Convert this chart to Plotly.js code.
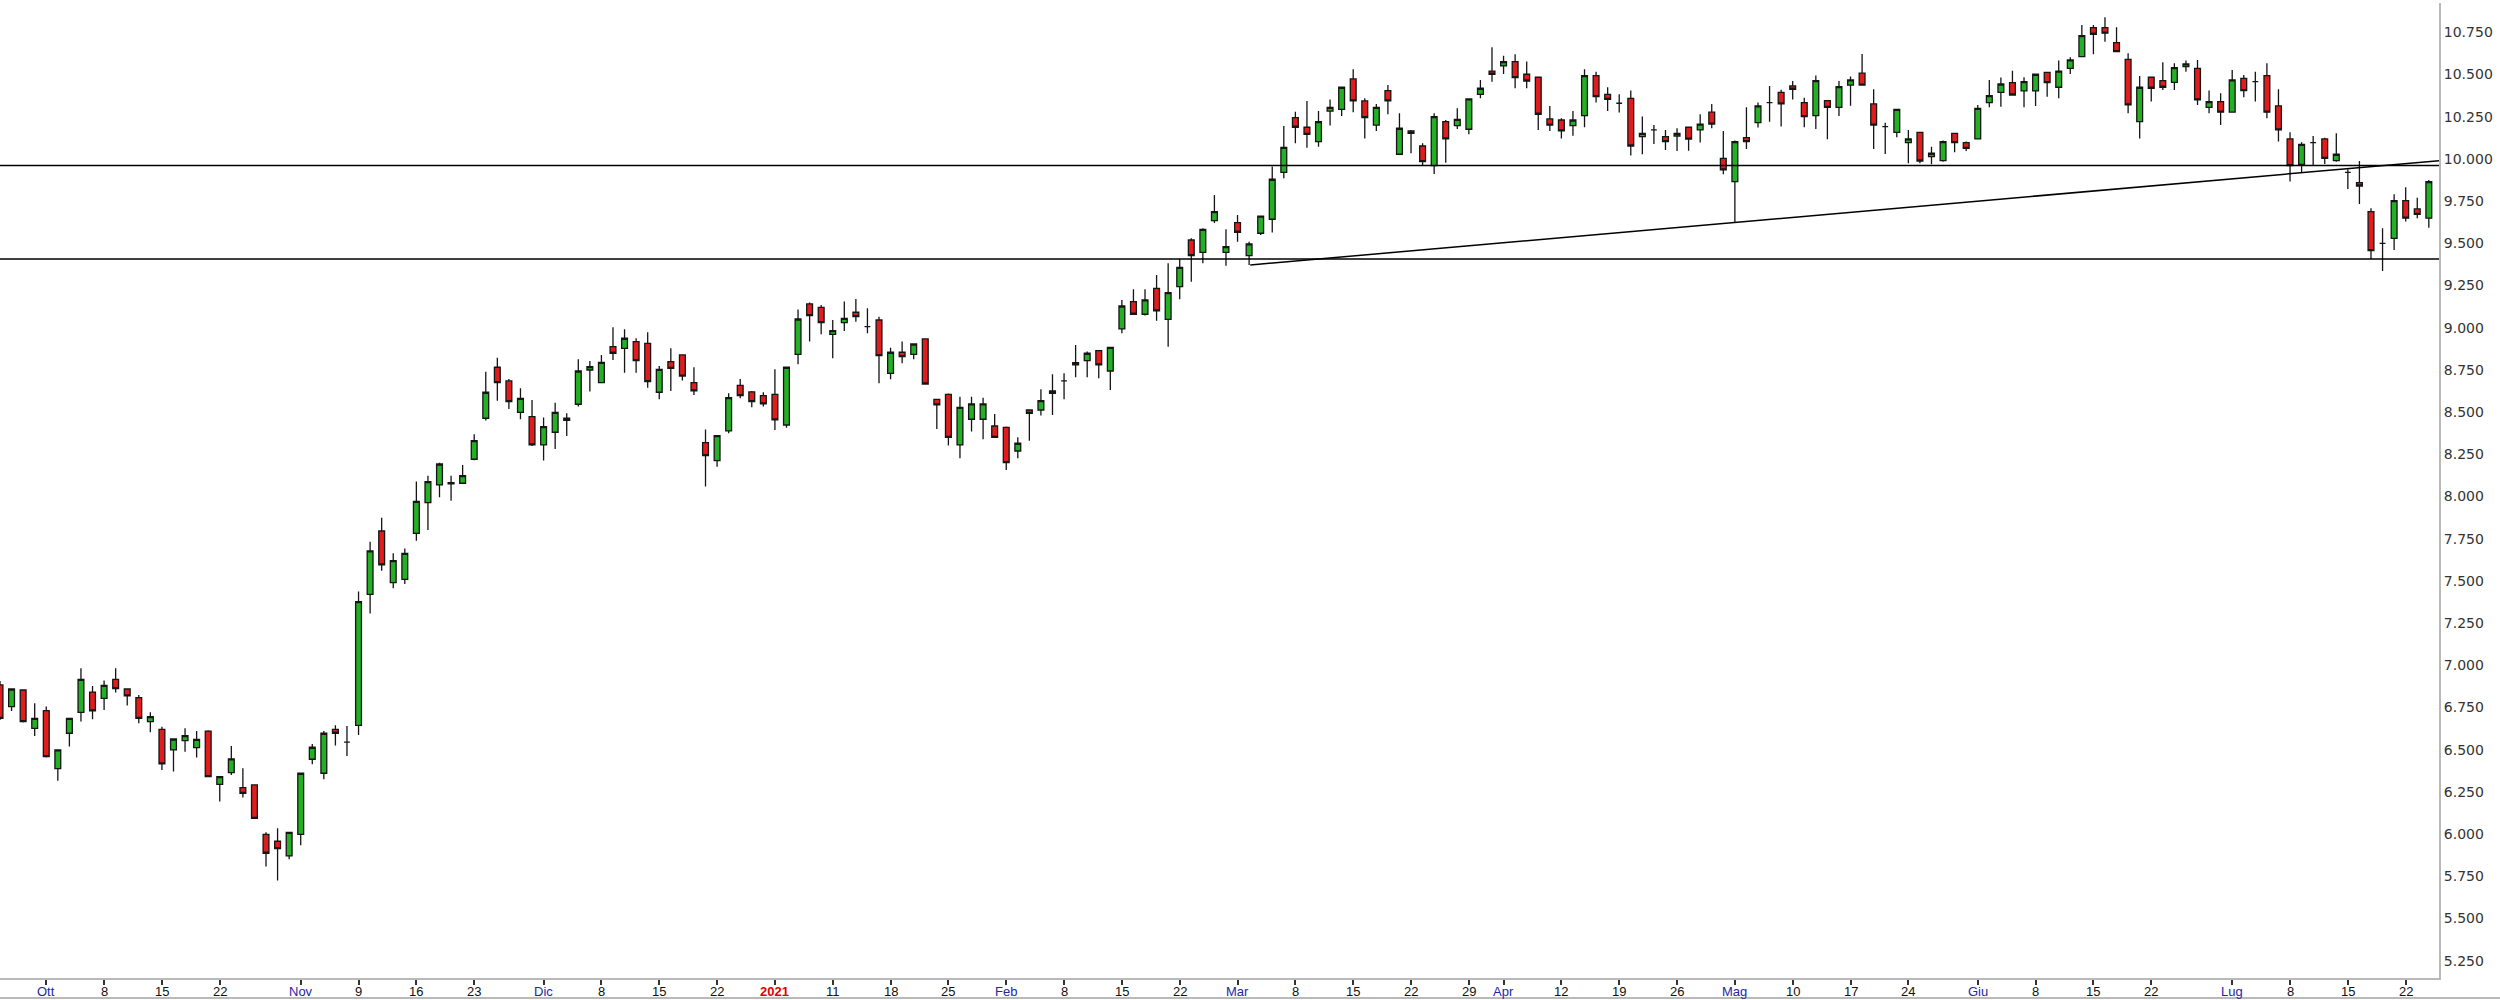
<!DOCTYPE html>
<html>
<head>
<meta charset="utf-8">
<script src="https://cdn.plot.ly/plotly-3.0.1.min.js"></script>
<style>
html,body{margin:0;padding:0;background:#fff;}
#chart{width:2500px;height:1000px;}
</style>
</head>
<body>
<div id="chart"></div>
<script>
// Trading days (x categories)
const dates = [
"2020-09-25","2020-09-28","2020-09-29","2020-09-30",
"2020-10-01","2020-10-02","2020-10-05","2020-10-06","2020-10-07","2020-10-08","2020-10-09","2020-10-12","2020-10-13","2020-10-14","2020-10-15","2020-10-16","2020-10-19","2020-10-20","2020-10-21","2020-10-22","2020-10-23","2020-10-26","2020-10-27","2020-10-28","2020-10-29","2020-10-30",
"2020-11-02","2020-11-03","2020-11-04","2020-11-05","2020-11-06","2020-11-09","2020-11-10","2020-11-11","2020-11-12","2020-11-13","2020-11-16","2020-11-17","2020-11-18","2020-11-19","2020-11-20","2020-11-23","2020-11-24","2020-11-25","2020-11-26","2020-11-27","2020-11-30",
"2020-12-01","2020-12-02","2020-12-03","2020-12-04","2020-12-07","2020-12-08","2020-12-09","2020-12-10","2020-12-11","2020-12-14","2020-12-15","2020-12-16","2020-12-17","2020-12-18","2020-12-21","2020-12-22","2020-12-23","2020-12-28","2020-12-29","2020-12-30",
"2021-01-04","2021-01-05","2021-01-06","2021-01-07","2021-01-08","2021-01-11","2021-01-12","2021-01-13","2021-01-14","2021-01-15","2021-01-18","2021-01-19","2021-01-20","2021-01-21","2021-01-22","2021-01-25","2021-01-26","2021-01-27","2021-01-28","2021-01-29",
"2021-02-01","2021-02-02","2021-02-03","2021-02-04","2021-02-05","2021-02-08","2021-02-09","2021-02-10","2021-02-11","2021-02-12","2021-02-15","2021-02-16","2021-02-17","2021-02-18","2021-02-19","2021-02-22","2021-02-23","2021-02-24","2021-02-25","2021-02-26",
"2021-03-01","2021-03-02","2021-03-03","2021-03-04","2021-03-05","2021-03-08","2021-03-09","2021-03-10","2021-03-11","2021-03-12","2021-03-15","2021-03-16","2021-03-17","2021-03-18","2021-03-19","2021-03-22","2021-03-23","2021-03-24","2021-03-25","2021-03-26","2021-03-29","2021-03-30","2021-03-31",
"2021-04-01","2021-04-06","2021-04-07","2021-04-08","2021-04-09","2021-04-12","2021-04-13","2021-04-14","2021-04-15","2021-04-16","2021-04-19","2021-04-20","2021-04-21","2021-04-22","2021-04-23","2021-04-26","2021-04-27","2021-04-28","2021-04-29","2021-04-30",
"2021-05-03","2021-05-04","2021-05-05","2021-05-06","2021-05-07","2021-05-10","2021-05-11","2021-05-12","2021-05-13","2021-05-14","2021-05-17","2021-05-18","2021-05-19","2021-05-20","2021-05-21","2021-05-24","2021-05-25","2021-05-26","2021-05-27","2021-05-28","2021-05-31",
"2021-06-01","2021-06-02","2021-06-03","2021-06-04","2021-06-07","2021-06-08","2021-06-09","2021-06-10","2021-06-11","2021-06-14","2021-06-15","2021-06-16","2021-06-17","2021-06-18","2021-06-21","2021-06-22","2021-06-23","2021-06-24","2021-06-25","2021-06-28","2021-06-29","2021-06-30",
"2021-07-01","2021-07-02","2021-07-05","2021-07-06","2021-07-07","2021-07-08","2021-07-09","2021-07-12","2021-07-13","2021-07-14","2021-07-15","2021-07-16","2021-07-19","2021-07-20","2021-07-21","2021-07-22","2021-07-23","2021-07-26"
];

const open = [
6.884,6.756,6.854,6.627,6.732,6.388,6.598,6.722,6.842,6.805,6.917,6.860,6.809,6.667,6.621,6.499,6.554,6.513,6.611,6.295,
6.365,6.276,6.292,5.999,5.958,5.871,5.999,6.444,6.361,6.621,6.545,6.645,7.421,7.796,7.490,7.510,7.782,7.964,8.069,8.082,
8.079,8.221,8.464,8.766,8.685,8.499,8.474,8.306,8.381,8.464,8.547,8.750,8.675,8.888,8.878,8.918,8.908,8.618,8.799,8.839,
8.675,8.320,8.213,8.389,8.659,8.620,8.598,8.606,8.424,8.843,9.141,9.121,8.961,9.030,9.092,9.007,9.046,8.730,8.855,8.843,
8.934,8.576,8.606,8.306,8.458,8.458,8.418,8.410,8.270,8.513,8.513,8.626,8.685,8.793,8.805,8.865,8.744,8.993,9.155,9.080,
9.234,9.050,9.244,9.520,9.447,9.635,9.447,9.623,9.427,9.560,9.643,9.921,10.245,10.188,10.103,10.284,10.294,10.474,10.344,10.201,
10.405,10.028,10.166,10.077,9.961,10.221,10.198,10.176,10.383,10.521,10.551,10.577,10.502,10.484,10.237,10.231,10.198,10.257,10.494,10.383,
10.330,10.359,10.132,10.172,10.132,10.136,10.188,10.172,10.277,10.004,9.866,10.126,10.215,10.334,10.395,10.433,10.334,10.257,10.346,10.306,
10.438,10.508,10.326,10.192,10.158,10.097,10.158,10.014,9.990,10.152,10.097,10.119,10.334,10.395,10.452,10.403,10.403,10.513,10.425,10.537,
10.606,10.778,10.778,10.689,10.590,10.221,10.484,10.464,10.454,10.547,10.537,10.306,10.340,10.277,10.478,10.458,10.494,10.314,10.119,9.968,
10.097,10.119,9.990,9.921,9.860,9.688,9.500,9.530,9.753,9.704,9.649
];
const high = [
6.908,6.865,6.857,6.775,6.756,6.502,6.690,6.983,6.878,6.910,6.983,6.864,6.825,6.722,6.637,6.568,6.627,6.611,6.615,6.345,
6.523,6.390,6.295,6.011,6.035,6.015,6.365,6.534,6.611,6.645,6.641,7.437,7.733,7.875,7.664,7.693,8.090,8.124,8.201,8.124,
8.187,8.369,8.740,8.823,8.697,8.641,8.572,8.468,8.556,8.493,8.813,8.803,8.839,9.003,8.991,8.938,8.973,8.774,8.878,8.843,
8.766,8.398,8.365,8.612,8.697,8.626,8.618,8.754,8.770,9.109,9.150,9.135,9.046,9.155,9.171,9.115,9.066,8.882,8.918,8.906,
8.938,8.580,8.610,8.592,8.592,8.586,8.489,8.415,8.351,8.515,8.636,8.724,8.730,8.898,8.859,8.868,8.888,9.165,9.228,9.228,
9.313,9.382,9.408,9.530,9.590,9.787,9.583,9.668,9.510,9.665,9.955,10.196,10.280,10.344,10.284,10.353,10.428,10.531,10.359,10.326,
10.438,10.271,10.172,10.093,10.271,10.231,10.300,10.360,10.468,10.662,10.612,10.620,10.577,10.488,10.314,10.241,10.284,10.531,10.517,10.425,
10.383,10.405,10.251,10.201,10.172,10.182,10.190,10.265,10.326,10.166,10.110,10.306,10.334,10.433,10.410,10.462,10.363,10.494,10.350,10.462,
10.488,10.622,10.413,10.215,10.297,10.172,10.160,10.073,10.110,10.155,10.103,10.320,10.468,10.482,10.523,10.484,10.504,10.517,10.583,10.602,
10.794,10.794,10.839,10.780,10.626,10.492,10.488,10.573,10.567,10.583,10.587,10.405,10.389,10.527,10.498,10.517,10.567,10.413,10.158,10.099,
10.136,10.126,10.152,9.939,9.988,9.708,9.589,9.791,9.832,9.771,9.876
];
const low = [
6.677,6.730,6.661,6.582,6.455,6.317,6.519,6.667,6.681,6.736,6.839,6.763,6.657,6.604,6.380,6.372,6.489,6.455,6.338,6.193,
6.351,6.218,6.090,5.808,5.725,5.851,5.934,6.414,6.325,6.525,6.463,6.588,7.308,7.561,7.457,7.482,7.739,7.802,7.996,7.976,
8.075,8.215,8.450,8.568,8.519,8.458,8.300,8.213,8.282,8.359,8.533,8.622,8.672,8.809,8.734,8.734,8.645,8.576,8.626,8.687,
8.602,8.059,8.177,8.375,8.582,8.529,8.533,8.395,8.408,8.784,8.918,8.961,8.819,8.981,9.036,8.967,8.671,8.695,8.790,8.813,
8.665,8.400,8.302,8.227,8.385,8.339,8.348,8.158,8.227,8.331,8.480,8.483,8.576,8.707,8.707,8.701,8.632,8.967,9.078,9.072,
9.042,8.888,9.169,9.273,9.382,9.620,9.368,9.510,9.372,9.550,9.564,9.886,10.093,10.067,10.073,10.198,10.255,10.277,10.122,10.166,
10.265,10.025,10.034,9.961,9.911,9.978,10.178,10.146,10.359,10.458,10.504,10.419,10.419,10.172,10.166,10.122,10.138,10.188,10.334,10.284,
10.275,10.020,10.028,10.089,10.053,10.047,10.049,10.097,10.182,9.909,9.620,10.059,10.186,10.221,10.192,10.353,10.188,10.178,10.117,10.255,
10.316,10.436,10.059,10.030,10.128,9.974,9.974,9.968,9.984,10.040,10.047,10.115,10.306,10.310,10.375,10.306,10.314,10.369,10.359,10.504,
10.604,10.620,10.695,10.634,10.271,10.122,10.340,10.409,10.409,10.517,10.320,10.271,10.201,10.275,10.365,10.340,10.241,10.103,9.866,9.921,
9.961,9.970,9.984,9.822,9.733,9.408,9.337,9.461,9.629,9.649,9.593
];
const close = [
6.686,6.860,6.667,6.686,6.459,6.499,6.686,6.917,6.730,6.882,6.862,6.819,6.686,6.696,6.416,6.564,6.584,6.562,6.341,6.341,
6.446,6.242,6.094,5.887,5.914,6.011,6.361,6.515,6.598,6.598,6.545,7.378,7.678,7.595,7.620,7.664,7.972,8.088,8.193,8.076,
8.124,8.331,8.618,8.675,8.562,8.582,8.306,8.414,8.499,8.452,8.744,8.770,8.795,8.849,8.938,8.805,8.681,8.754,8.760,8.714,
8.626,8.243,8.361,8.586,8.598,8.562,8.549,8.454,8.766,9.052,9.072,9.030,8.983,9.056,9.066,9.007,8.835,8.855,8.829,8.904,
8.667,8.543,8.351,8.529,8.549,8.549,8.351,8.201,8.316,8.493,8.568,8.612,8.685,8.780,8.849,8.780,8.884,9.129,9.080,9.165,
9.100,9.208,9.358,9.427,9.583,9.688,9.481,9.566,9.497,9.662,9.880,10.069,10.188,10.146,10.221,10.306,10.425,10.344,10.245,10.306,
10.344,10.182,10.152,9.984,10.251,10.119,10.235,10.356,10.419,10.502,10.577,10.482,10.462,10.265,10.201,10.166,10.231,10.494,10.369,10.353,
10.330,10.077,10.152,10.172,10.103,10.152,10.117,10.207,10.207,9.935,10.103,10.103,10.314,10.334,10.326,10.413,10.251,10.464,10.306,10.429,
10.468,10.438,10.201,10.192,10.294,10.119,9.988,10.034,10.103,10.097,10.063,10.300,10.375,10.444,10.379,10.458,10.502,10.452,10.521,10.587,
10.731,10.739,10.745,10.636,10.320,10.425,10.419,10.425,10.541,10.563,10.350,10.340,10.277,10.468,10.405,10.458,10.277,10.172,9.961,10.087,
10.097,10.004,10.028,9.921,9.840,9.457,9.500,9.753,9.649,9.672,9.866
];

// x-axis tick labels
const tickDates = ["2020-10-01","2020-10-08","2020-10-15","2020-10-22","2020-11-02","2020-11-09","2020-11-16","2020-11-23",
"2020-12-01","2020-12-08","2020-12-15","2020-12-22","2021-01-04","2021-01-11","2021-01-18","2021-01-25",
"2021-02-01","2021-02-08","2021-02-15","2021-02-22","2021-03-01","2021-03-08","2021-03-15","2021-03-22","2021-03-29",
"2021-04-01","2021-04-12","2021-04-19","2021-04-26","2021-05-03","2021-05-10","2021-05-17","2021-05-24",
"2021-06-01","2021-06-08","2021-06-15","2021-06-22","2021-07-01","2021-07-08","2021-07-15","2021-07-22"];
const tickLabels = ["Ott","8","15","22","Nov","9","16","23","Dic","8","15","22","2021","11","18","25",
"Feb","8","15","22","Mar","8","15","22","29","Apr","12","19","26","Mag","10","17","24",
"Giu","8","15","22","Lug","8","15","22"];
const monthNames = ["Ott","Nov","Dic","Feb","Mar","Apr","Mag","Giu","Lug"];

// drawn support / resistance levels
const resistanceLevel = 9.961;
const supportLevel = 9.408;
const trendStart = {idx: 108.1, val: 9.372};
const trendEnd = {idx: 210.88, val: 9.990};

const labelAnnotations = tickDates.map(function(d, k){
  const t = tickLabels[k];
  let color = '#111111', txt = t;
  if (t === "2021") { color = '#e00000'; txt = '<b>2021</b>'; }
  else if (monthNames.indexOf(t) >= 0) { color = '#2525a8'; }
  return {
    x: d, xref: 'x', y: -0.0135, yref: 'paper',
    xanchor: 'center', yanchor: 'middle', showarrow: false,
    text: txt,
    font: {family: 'Liberation Sans, Arial, sans-serif', size: 13, color: color}
  };
});

const trace = {
  type: 'candlestick',
  x: dates, open: open, high: high, low: low, close: close,
  increasing: {line: {color: '#151515', width: 1.3}, fillcolor: '#24b024'},
  decreasing: {line: {color: '#151515', width: 1.3}, fillcolor: '#e21c1c'},
  whiskerwidth: 0,
  hoverinfo: 'none'
};

const layout = {
  width: 2500, height: 1000,
  margin: {l: 0, r: 61, t: 3, b: 22, pad: 0},
  paper_bgcolor: '#ffffff', plot_bgcolor: '#ffffff',
  showlegend: false,
  boxgap: 0.28,
  xaxis: {
    type: 'category', range: [0, 210.88],
    rangeslider: {visible: false},
    tickmode: 'array', tickvals: tickDates, showticklabels: false,
    ticks: 'outside', ticklen: 5, tickwidth: 2, tickcolor: '#333333',
    showline: true, linecolor: '#b9b9b9', linewidth: 2,
    showgrid: false, zeroline: false,
    fixedrange: true
  },
  yaxis: {
    side: 'right', range: [5.148, 10.924],
    tickmode: 'linear', tick0: 5.25, dtick: 0.25, tickformat: '.3f',
    ticks: '', showline: true, linecolor: '#b9b9b9', linewidth: 2,
    showgrid: false, zeroline: false,
    tickfont: {family: 'DejaVu Sans, Verdana, sans-serif', size: 14, color: '#333333'},
    fixedrange: true
  },
  annotations: labelAnnotations,
  shapes: [
    {type: 'line', xref: 'paper', yref: 'y', x0: 0, x1: 1, y0: resistanceLevel, y1: resistanceLevel, line: {color: '#000000', width: 1.5}},
    {type: 'line', xref: 'paper', yref: 'y', x0: 0, x1: 1, y0: supportLevel, y1: supportLevel, line: {color: '#000000', width: 1.5}},
    {type: 'line', xref: 'x', yref: 'y', x0: trendStart.idx, y0: trendStart.val, x1: trendEnd.idx, y1: trendEnd.val, line: {color: '#000000', width: 1.5}},
    {type: 'line', xref: 'paper', yref: 'paper', x0: 0, x1: 1.03, y0: -0.0205, y1: -0.0205, line: {color: '#b9b9b9', width: 2}}
  ]
};

Plotly.newPlot('chart', [trace], layout, {displayModeBar: false, staticPlot: true});
</script>
</body>
</html>
